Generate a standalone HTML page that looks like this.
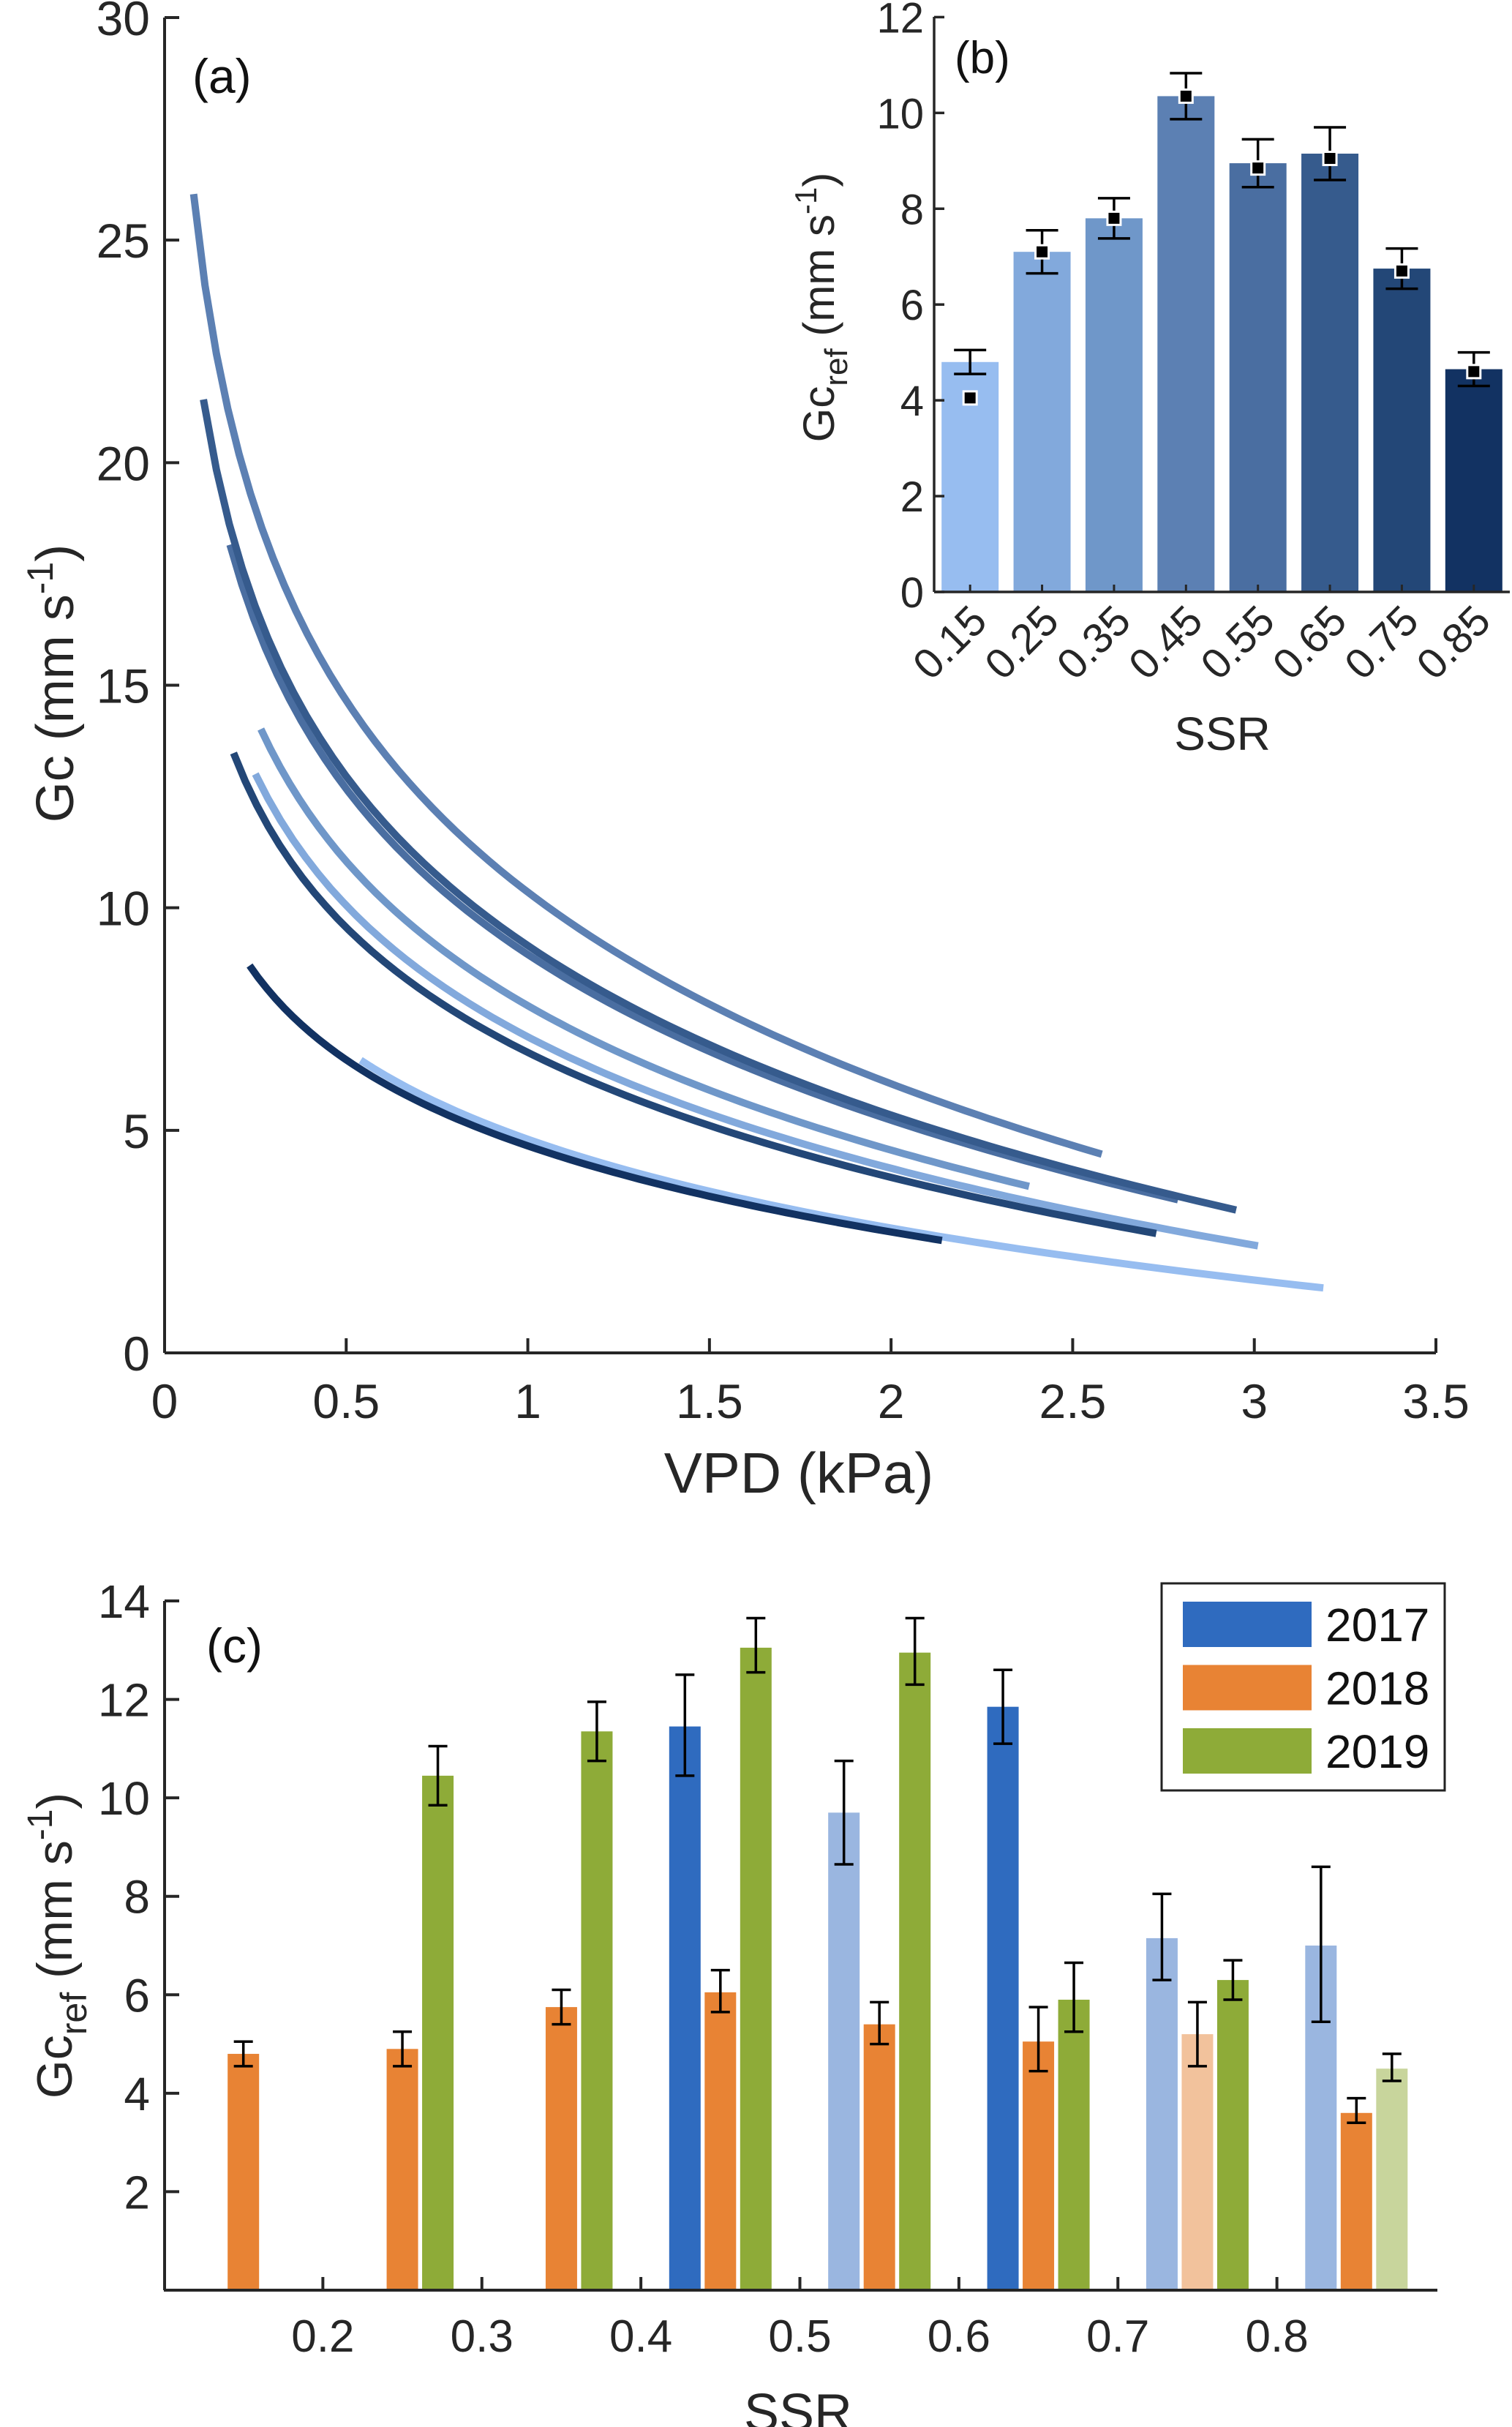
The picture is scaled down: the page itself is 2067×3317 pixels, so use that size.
<!DOCTYPE html>
<html><head><meta charset="utf-8"><style>
html,body{margin:0;padding:0;background:#fff}
svg{display:block;font-family:"Liberation Sans",sans-serif}
</style></head><body>
<svg id="fig" width="2067" height="3317" viewBox="0 0 2067 3317" xmlns="http://www.w3.org/2000/svg">
<g id="pa"></g>
<g id="pb"></g>
<g id="pc"></g>
</svg>
<script>
// ---------- Panel (a)/(b) data ----------
const ssrCats = [0.15,0.25,0.35,0.45,0.55,0.65,0.75,0.85];
const gcrefBars = [4.8,7.1,7.8,10.35,8.95,9.15,6.75,4.65];
const gcrefMarkers = [4.05,7.1,7.8,10.35,8.85,9.05,6.7,4.6];
const gcrefErr = [0.25,0.45,0.42,0.48,0.5,0.55,0.42,0.35];
const curveSens = [0.6,0.6,0.6,0.6,0.6,0.6,0.6,0.6];
const vpdStart = [0.54,0.25,0.265,0.08,0.18,0.107,0.19,0.234];
const vpdEnd = [3.19,3.01,2.38,2.58,2.79,2.95,2.73,2.14];
const blueShades = ['#97bdf0','#82a9dc','#6f97c9','#5c80b3','#4a6ea1','#365b8d','#234777','#123262'];
const aXTicks = [0,0.5,1,1.5,2,2.5,3,3.5];
const aYTicks = [0,5,10,15,20,25,30];
const bYTicks = [0,2,4,6,8,10,12];
// ---------- Panel (c) data ----------
const cCats = [0.15,0.25,0.35,0.45,0.55,0.65,0.75,0.85];
const v2017 = [null,null,null,11.45,9.7,11.85,7.15,7.0];
const e2017lo = [null,null,null,10.45,8.65,11.1,6.3,5.45];
const e2017hi = [null,null,null,12.5,10.75,12.6,8.05,8.6];
const light2017 = [false,false,false,false,true,false,true,true];
const v2018 = [4.8,4.9,5.75,6.05,5.4,5.05,5.2,3.6];
const e2018lo = [4.55,4.55,5.4,5.65,5.0,4.45,4.55,3.4];
const e2018hi = [5.05,5.25,6.1,6.5,5.85,5.75,5.85,3.9];
const light2018 = [false,false,false,false,false,false,true,false];
const v2019 = [null,10.45,11.35,13.05,12.95,5.9,6.3,4.5];
const e2019lo = [null,9.85,10.75,12.55,12.3,5.25,5.9,4.25];
const e2019hi = [null,11.05,11.95,13.65,13.65,6.65,6.7,4.8];
const light2019 = [false,false,false,false,false,false,false,true];
const cXTicks = [0.2,0.3,0.4,0.5,0.6,0.7,0.8];
const cYTicks = [2,4,6,8,10,12,14];
const years = ['2017','2018','2019'];

const NS='http://www.w3.org/2000/svg';
function mk(parent,tag,attrs,txt){const e=document.createElementNS(NS,tag);for(const k in attrs)e.setAttribute(k,attrs[k]);if(txt!==undefined)e.textContent=txt;parent.appendChild(e);return e;}
const AX='#262626';

// ================= Panel A =================
const pa=document.getElementById('pa');
const ax=v=>225+v*(1963-225)/3.5;
const ay=v=>1849-v*(1849-24)/30;
let l;
l=mk(pa,'line',{x1:225,y1:1849,x2:1963,y2:1849,stroke:AX,'stroke-width':4});

l=mk(pa,'line',{x1:225,y1:1849,x2:225,y2:24,stroke:AX,'stroke-width':4});

aXTicks.forEach(t=>{
  let tk=mk(pa,'line',{x1:ax(t),y1:1849,x2:ax(t),y2:1829,stroke:AX,'stroke-width':4});
  
  let tx=mk(pa,'text',{x:ax(t),y:1938,'font-size':66,'text-anchor':'middle',fill:AX},String(t));
  
});
aYTicks.forEach(t=>{
  let tk=mk(pa,'line',{x1:225,y1:ay(t),x2:245,y2:ay(t),stroke:AX,'stroke-width':4});
  
  let tx=mk(pa,'text',{x:205,y:ay(t)+24,'font-size':66,'text-anchor':'end',fill:AX},String(t));
  
});
ssrCats.forEach((c,i)=>{
  let pts=[];
  for(let k=0;k<=80;k++){const d=vpdStart[i]+(vpdEnd[i]-vpdStart[i])*k/80;const g=gcrefBars[i]*(1-curveSens[i]*Math.log(d));pts.push(ax(d).toFixed(1)+','+ay(g).toFixed(1));}
  let p=mk(pa,'polyline',{points:pts.join(' '),fill:'none',stroke:blueShades[i],'stroke-width':10});
  
});
l=mk(pa,'text',{x:263,y:127,'font-size':66,fill:'#111'},'(a)');

l=mk(pa,'text',{x:1092,y:2040,'font-size':78,'text-anchor':'middle',fill:AX},'VPD (kPa)');

l=mk(pa,'text',{x:0,y:0,'font-size':72,'text-anchor':'middle',fill:AX,transform:'translate(100,934) rotate(-90)'});

l.innerHTML='Gc (mm s<tspan dy="-28" font-size="50">-1</tspan><tspan dy="28">)</tspan>';

// ================= Panel B =================
const pb=document.getElementById('pb');
const bx=v=>1277+(v-0.1)*(2064-1277)/0.8;
const by=v=>809-v*(809-23.4)/12;
ssrCats.forEach((c,i)=>{
  let r=mk(pb,'rect',{x:bx(c)-39,y:by(gcrefBars[i]),width:78,height:by(0)-by(gcrefBars[i]),fill:blueShades[i]});
  
  const hi=by(gcrefBars[i]+gcrefErr[i]),lo=by(gcrefBars[i]-gcrefErr[i]),x=bx(c);
  let eb=mk(pb,'path',{d:`M${x},${hi}V${lo}M${x-22},${hi}H${x+22}M${x-22},${lo}H${x+22}`,stroke:'#000','stroke-width':3.5,fill:'none'});
  
  let m=mk(pb,'rect',{x:x-9,y:by(gcrefMarkers[i])-9,width:18,height:18,fill:'#000',stroke:'#fff','stroke-width':3});
  
  let tk=mk(pb,'line',{x1:x,y1:809,x2:x,y2:799,stroke:AX,'stroke-width':3});
  
  let tx=mk(pb,'text',{x:0,y:0,'font-size':58,'text-anchor':'end',fill:AX,transform:`translate(${x+26},${852}) rotate(-45)`},c.toFixed(2));
  
});
l=mk(pb,'line',{x1:1277,y1:809,x2:2064,y2:809,stroke:AX,'stroke-width':3.5});

l=mk(pb,'line',{x1:1277,y1:809,x2:1277,y2:23,stroke:AX,'stroke-width':3.5});

bYTicks.forEach(t=>{
  let tk=mk(pb,'line',{x1:1277,y1:by(t),x2:1291,y2:by(t),stroke:AX,'stroke-width':3.5});
  
  let tx=mk(pb,'text',{x:1263,y:by(t)+21,'font-size':58,'text-anchor':'end',fill:AX},String(t));
  
});
l=mk(pb,'text',{x:1305,y:100,'font-size':62,fill:'#111'},'(b)');

l=mk(pb,'text',{x:1671,y:1025,'font-size':64,'text-anchor':'middle',fill:AX},'SSR');

l=mk(pb,'text',{x:0,y:0,'font-size':60,'text-anchor':'middle',fill:AX,transform:'translate(1140,420) rotate(-90)'});

l.innerHTML='Gc<tspan dy="18" font-size="44">ref</tspan><tspan dy="-18"> (mm s</tspan><tspan dy="-24" font-size="42">-1</tspan><tspan dy="24">)</tspan>';

// ================= Panel C =================
const pc=document.getElementById('pc');
const cx=v=>224+(v-0.1)*(1963-224)/0.8;
const cy=v=>3130-v*(3130-2188)/14;
const yearColors=['#2f6bbf','#e88334','#8eab38'];
const yearLight=['#9ab6e0','#f2c29c','#c8d59c'];
const vals=[v2017,v2018,v2019],los=[e2017lo,e2018lo,e2019lo],his=[e2017hi,e2018hi,e2019hi],lights=[light2017,light2018,light2019];
cCats.forEach((c,i)=>{
  for(let s=0;s<3;s++){
    const v=vals[s][i]; if(v===null) continue;
    const x=cx(c)+(s-1)*48.5;
    let r=mk(pc,'rect',{x:x-21.5,y:cy(v),width:43,height:cy(0)-cy(v),fill:lights[s][i]?yearLight[s]:yearColors[s]});
    
    const hi=cy(his[s][i]),lo=cy(los[s][i]);
    let eb=mk(pc,'path',{d:`M${x},${hi}V${lo}M${x-13},${hi}H${x+13}M${x-13},${lo}H${x+13}`,stroke:'#000','stroke-width':3.5,fill:'none'});
    
  }
});
l=mk(pc,'line',{x1:224,y1:3130,x2:1965,y2:3130,stroke:AX,'stroke-width':4});

l=mk(pc,'line',{x1:225,y1:3130,x2:225,y2:2188,stroke:AX,'stroke-width':4});

cXTicks.forEach(t=>{
  let tk=mk(pc,'line',{x1:cx(t),y1:3130,x2:cx(t),y2:3112,stroke:AX,'stroke-width':4});
  
  let tx=mk(pc,'text',{x:cx(t),y:3214,'font-size':62,'text-anchor':'middle',fill:AX},String(t));
  
});
cYTicks.forEach(t=>{
  let tk=mk(pc,'line',{x1:225,y1:cy(t),x2:245,y2:cy(t),stroke:AX,'stroke-width':4});
  
  let tx=mk(pc,'text',{x:205,y:cy(t)+23,'font-size':64,'text-anchor':'end',fill:AX},String(t));
  
});
l=mk(pc,'text',{x:282,y:2272,'font-size':66,fill:'#111'},'(c)');

l=mk(pc,'text',{x:1091,y:3322,'font-size':72,'text-anchor':'middle',fill:AX},'SSR');

l=mk(pc,'text',{x:0,y:0,'font-size':68,'text-anchor':'middle',fill:AX,transform:'translate(98,2659) rotate(-90)'});

l.innerHTML='Gc<tspan dy="20" font-size="50">ref</tspan><tspan dy="-20"> (mm s</tspan><tspan dy="-27" font-size="48">-1</tspan><tspan dy="27">)</tspan>';
// legend
const lg=mk(pc,'g',{});

l=mk(lg,'rect',{x:1588,y:2164,width:387,height:283,fill:'#fff',stroke:'#222','stroke-width':3});

years.forEach((yr,s)=>{
  const yc=2220+s*86.5;
  let sw=mk(lg,'rect',{x:1617,y:yc-31,width:176,height:62,fill:yearColors[s]});
  
  let tx=mk(lg,'text',{x:1812,y:yc+23,'font-size':64,fill:'#111'},yr);
  
});
</script>
</body></html>
